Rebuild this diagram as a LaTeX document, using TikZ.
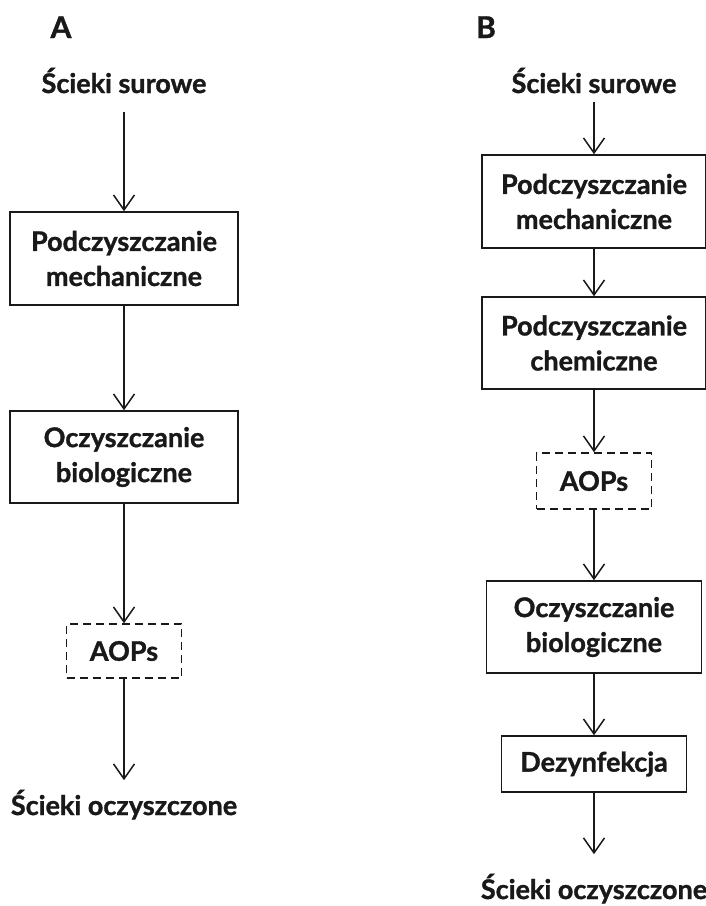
\documentclass[tikz,border=0pt]{standalone}
\usepackage{fontspec}
\setmainfont{Lato}[BoldFeatures={FakeBold=1.2}]
\usetikzlibrary{arrows.meta}

\begin{document}
\begin{tikzpicture}[x=1pt, y=-1pt, font=\bfseries\fontsize{27}{35}\selectfont, text=black!90,
  stage/.style={draw=black!90, line width=1.5pt, align=center, inner sep=0pt},
  optstage/.style={stage, dash pattern=on 8pt off 5pt},
  endtext/.style={inner sep=0pt, anchor=base},
  flow/.style={draw=black!90, line width=1.5pt, -{Straight Barb[length=15pt, width=21pt]}}]
\useasboundingbox (0,0) rectangle (706,906);
% scheme A
\node[endtext, font=\bfseries\fontsize{30}{35}\selectfont] (GAlabel) at (61,38) {A};
\node[endtext] (GAN0) at (124,93) {Ścieki surowe};
\node[stage, minimum width=228, minimum height=93] (GAN1) at (124,258.5) {Podczyszczanie\\mechaniczne};
\node[stage, minimum width=228, minimum height=92] (GAN2) at (124,457) {Oczyszczanie\\biologiczne};
\node[optstage, minimum width=115, minimum height=54] (GAN3) at (124,651) {AOPs};
\node[endtext] (GAN4) at (124,815) {Ścieki oczyszczone};
\draw[flow, shorten <=19pt] (GAN0.south) -- (GAN1.north);
\draw[flow] (GAN1.south) -- (GAN2.north);
\draw[flow] (GAN2.south) -- (GAN3.north);
\draw[flow, shorten >=9.5pt] (GAN3.south) -- (GAN4.north);
% scheme B
\node[endtext, font=\bfseries\fontsize{30}{35}\selectfont] (GBlabel) at (486,38) {B};
\node[endtext] (GBN0) at (594,93) {Ścieki surowe};
\node[stage, minimum width=224, minimum height=93] (GBN1) at (594,201.5) {Podczyszczanie\\mechaniczne};
\node[stage, minimum width=224, minimum height=92] (GBN2) at (594,343) {Podczyszczanie\\chemiczne};
\node[optstage, minimum width=115, minimum height=56] (GBN3) at (594,481) {AOPs};
\node[stage, minimum width=215, minimum height=92] (GBN4) at (594,627) {Oczyszczanie\\biologiczne};
\node[stage, minimum width=185, minimum height=56] (GBN5) at (594,764) {Dezynfekcja};
\node[endtext] (GBN6) at (594,899) {Ścieki oczyszczone};
\draw[flow, shorten <=9pt] (GBN0.south) -- (GBN1.north);
\draw[flow] (GBN1.south) -- (GBN2.north);
\draw[flow] (GBN2.south) -- (GBN3.north);
\draw[flow] (GBN3.south) -- (GBN4.north);
\draw[flow] (GBN4.south) -- (GBN5.north);
\draw[flow, shorten >=19.5pt] (GBN5.south) -- (GBN6.north);
\end{tikzpicture}
\end{document}
